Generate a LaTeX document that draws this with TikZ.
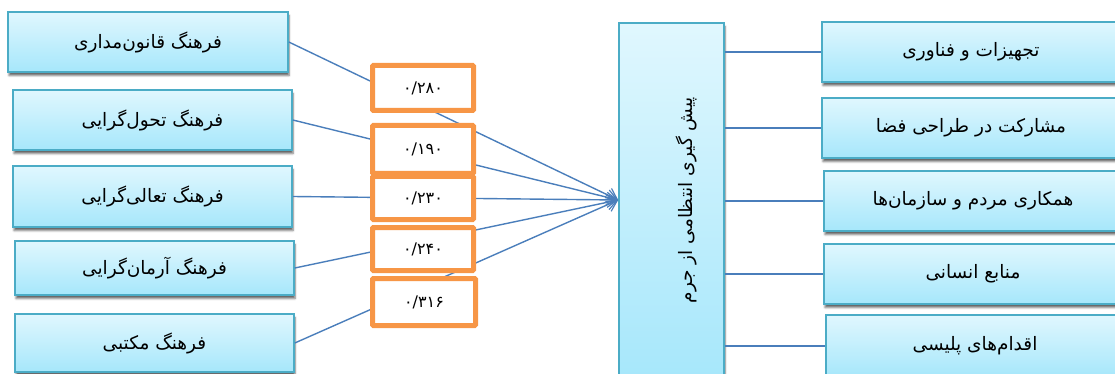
\documentclass[tikz,border=0pt]{standalone}
\usepackage{fontspec}
\newfontfamily\arabicfont[Script=Arabic]{DejaVu Sans}
\TeXXeTstate=1
\usetikzlibrary{arrows.meta,shadows.blur}
\definecolor{boxtop}{HTML}{E0F7FE}
\definecolor{boxbot}{HTML}{A6E7FB}
\definecolor{boxedge}{HTML}{4BACC6}
\definecolor{linkblue}{HTML}{4A7EBB}
\definecolor{coefor}{HTML}{F79646}
\tikzset{
  cbox/.style={draw=boxedge, line width=1.6pt, top color=boxtop, bottom color=boxbot,
    blur shadow={shadow xshift=1pt, shadow yshift=-3.5pt, shadow opacity=60, shadow blur radius=2pt},
    inner sep=0pt, font=\arabicfont\fontsize{18.5}{22}\selectfont},
  lbox/.style={cbox, minimum width=279pt},
  rbox/.style={cbox, minimum width=298pt, minimum height=60pt},
  coef/.style={draw=coefor, line width=5pt, fill=white, rounded corners=1pt,
    minimum width=101pt, inner sep=0pt, font=\arabicfont\fontsize{16}{19}\selectfont},
  link/.style={draw=linkblue, line width=1.4pt},
  feed/.style={link, -{Straight Barb[length=10pt,width=15pt,line width=1.2pt]}},
}
\begin{document}
\begin{tikzpicture}[x=1pt,y=-1pt]
\useasboundingbox (0,0) rectangle (1115,374);
\clip (0,0) rectangle (1115,374);
% cultural dimensions (left column)
\node[lbox, minimum width=280pt, minimum height=60pt] (L1) at (148,42) {\beginR فرهنگ قانون‌مداری\endR};
\node[lbox, minimum height=60pt] (L2) at (152.5,120) {\beginR فرهنگ تحول‌گرایی\endR};
\node[lbox, minimum height=61pt] (L3) at (152.5,196.5) {\beginR فرهنگ تعالی‌گرایی\endR};
\node[lbox, minimum height=54pt] (L4) at (154.5,268) {\beginR فرهنگ آرمان‌گرایی\endR};
\node[lbox, minimum height=58pt] (L5) at (154.5,343) {\beginR فرهنگ مکتبی\endR};
% central outcome
\node[cbox, minimum width=105pt, minimum height=360pt] (C) at (671.5,203) {};
\node[rotate=90, font=\arabicfont\fontsize{18.5}{22}\selectfont] (Ct) at (686,200) {\beginR پیش گیری انتظامی از جرم\endR};
\coordinate (tip) at ([yshift=3pt]C.west);
% components (right column)
\node[rbox] (R1) at (971,52) {\beginR تجهیزات و فناوری\endR};
\node[rbox] (R2) at (971,128) {\beginR مشارکت در طراحی فضا\endR};
\node[rbox] (R3) at (973,201) {\beginR همکاری مردم و سازمان‌ها\endR};
\node[rbox] (R4) at (973,274) {\beginR منابع انسانی\endR};
\node[rbox, minimum height=62pt] (R5) at (975,346) {\beginR اقدام‌های پلیسی\endR};
% links
\foreach \s in {L1,L2,L3,L4,L5} \draw[feed] (\s.east) -- (tip);
\foreach \r in {R1,R2,R3,R4,R5} \draw[link] (C.east |- \r.west) -- (\r.west);
% path coefficients
\node[coef, minimum height=45pt] (k1) at (423,88) {۰/۲۸۰};
\node[coef, minimum height=48pt] (k2) at (423,149.5) {۰/۱۹۰};
\node[coef, minimum height=43pt] (k3) at (423,198) {۰/۲۳۰};
\node[coef, minimum height=43pt] (k4) at (423,249) {۰/۲۴۰};
\node[coef, minimum width=103pt, minimum height=47pt] (k5) at (424,302) {۰/۳۱۶};
\end{tikzpicture}
\end{document}
